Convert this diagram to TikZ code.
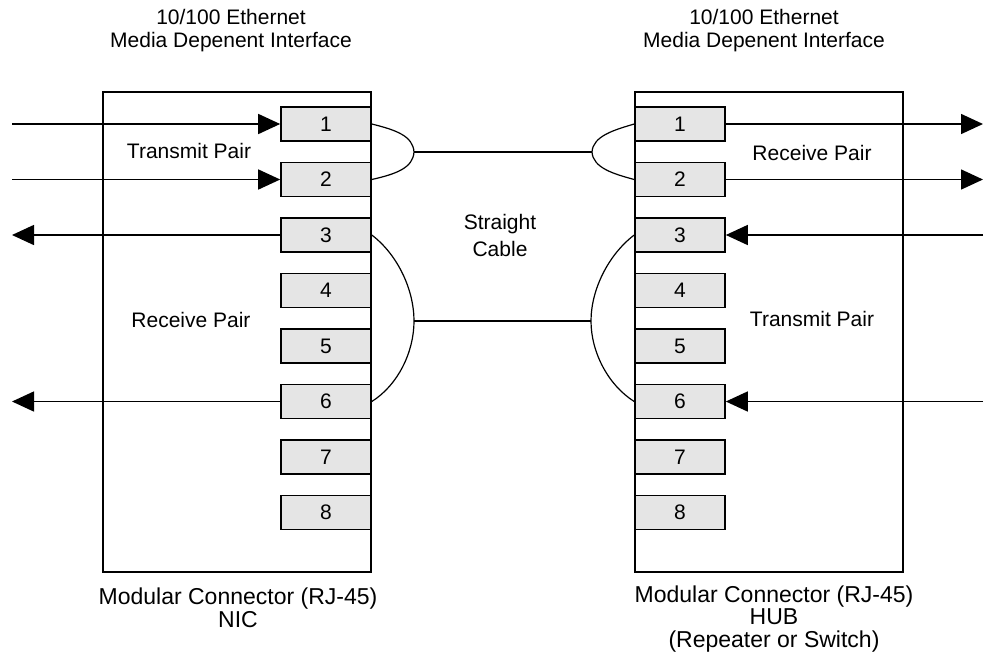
\documentclass[tikz,border=0pt]{standalone}
\usepackage{fontspec}
\setmainfont{Liberation Sans}
\usepackage{tikz}
\usetikzlibrary{arrows.meta}
\tikzstyle{rjbox} = [draw, line width=1pt, minimum width=134pt, minimum height=240pt, inner sep=0]
\tikzstyle{rjpin} = [draw, fill=gray!20, line width=0.8pt, minimum width=45pt, minimum height=17pt, inner sep=0, font=\fontsize{10.5}{12}\selectfont]
\tikzstyle{wire} = [line width=0.6pt]
\tikzstyle{signal} = [line width=0.75pt, -{Triangle[length=11pt,width=10pt]}]
\tikzstyle{txt} = [font=\fontsize{10.5}{11.5}\selectfont, align=center]
\tikzstyle{bigtxt} = [font=\fontsize{11.5}{11.25}\selectfont, align=center]

\begin{document}
\begin{tikzpicture}[x=0.5pt, y=-0.5pt]
	\useasboundingbox (0,0) rectangle (984,654);

	% the two connectors
	\node[rjbox] (nic) at (237,332) {};
	\node[rjbox] (hub) at (769,332) {};
	\foreach \i in {1,...,8} {
		\node[rjpin] (l\i) at (326,{124+(\i-1)*55.5}) {\i};
		\node[rjpin] (r\i) at (680,{124+(\i-1)*55.5}) {\i};
	}

	\node[txt] (nichead) at (231,31) {10/100 Ethernet\\Media Depenent Interface};
	\node[txt] (hubhead) at (764,31) {10/100 Ethernet\\Media Depenent Interface};
	\node[bigtxt] (nicfoot) at (238,608) {Modular Connector (RJ-45)\\NIC};
	\node[bigtxt] (hubfoot) at (774,619) {Modular Connector (RJ-45)\\HUB\\(Repeater or Switch)};

	\node[txt] (nictx) at (189,151) {Transmit Pair};
	\node[txt] (nicrx) at (191,320) {Receive Pair};
	\node[txt] (hubrx) at (812,153) {Receive Pair};
	\node[txt] (hubtx) at (812,319) {Transmit Pair};
	\node[txt, font=\fontsize{10.5}{13.5}\selectfont] (cable) at (500,235) {Straight\\Cable};

	% cable pairs
	\coordinate (lc12) at (414,152);
	\coordinate (rc12) at (592,152);
	\coordinate (lc36) at (414,321);
	\coordinate (rc36) at (591,321);
	\draw[wire] (l1.east) .. controls (396,130) and (413,136) .. (lc12) .. controls (413,168) and (396,174) .. (l2.east);
	\draw[wire] (r1.west) .. controls (614,130) and (593,136) .. (rc12) .. controls (593,168) and (614,174) .. (r2.west);
	\draw[wire] (l3.east) .. controls (398,255) and (414,290) .. (lc36) .. controls (414,352) and (398,385) .. (l6.east);
	\draw[wire] (r3.west) .. controls (608,255) and (591,290) .. (rc36) .. controls (591,352) and (608,385) .. (r6.west);
	\draw[wire] (lc12) -- (rc12);
	\draw[wire] (lc36) -- (rc36);

	% signals
	\coordinate (nicin1) at (12,124);
	\coordinate (nicin2) at (12,179.5);
	\coordinate (nicout3) at (12,235);
	\coordinate (nicout6) at (12,401.5);
	\coordinate (hubout1) at (983,124);
	\coordinate (hubout2) at (983,179.5);
	\coordinate (hubin3) at (983,235);
	\coordinate (hubin6) at (983,401.5);
	\draw[signal] (nicin1) -- (l1.west);
	\draw[signal] (nicin2) -- (l2.west);
	\draw[signal] (l3.west) -- (nicout3);
	\draw[signal] (l6.west) -- (nicout6);
	\draw[signal] (r1.east) -- (hubout1);
	\draw[signal] (r2.east) -- (hubout2);
	\draw[signal] (hubin3) -- (r3.east);
	\draw[signal] (hubin6) -- (r6.east);
\end{tikzpicture}
\end{document}
